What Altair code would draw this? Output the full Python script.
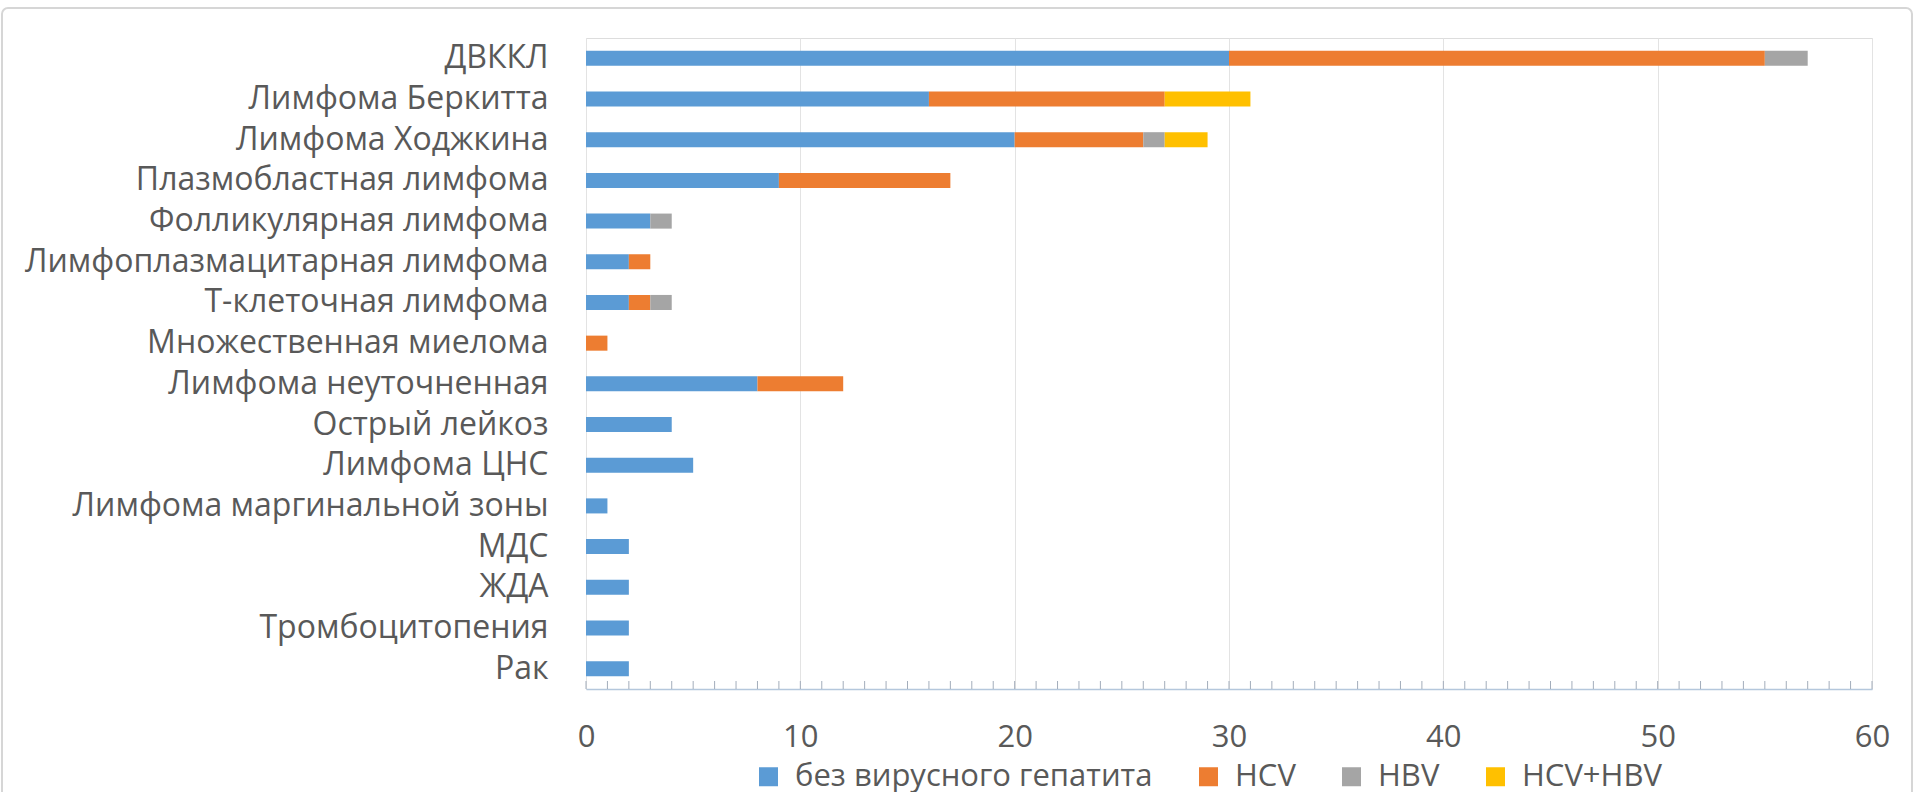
import altair as alt
import pandas as pd

categories = [
    "ДВККЛ", "Лимфома Беркитта", "Лимфома Ходжкина", "Плазмобластная лимфома",
    "Фолликулярная лимфома", "Лимфоплазмацитарная лимфома", "Т-клеточная лимфома",
    "Множественная миелома", "Лимфома неуточненная", "Острый лейкоз", "Лимфома ЦНС",
    "Лимфома маргинальной зоны", "МДС", "ЖДА", "Тромбоцитопения", "Рак",
]
series_names = ["без вирусного гепатита", "HCV", "HBV", "HCV+HBV"]
no_hepatitis = [30, 16, 20, 9, 3, 2, 2, 0, 8, 4, 5, 1, 2, 2, 2, 2]
hcv = [25, 11, 6, 8, 0, 1, 1, 1, 4, 0, 0, 0, 0, 0, 0, 0]
hbv = [2, 0, 1, 0, 1, 0, 1, 0, 0, 0, 0, 0, 0, 0, 0, 0]
hcv_hbv = [0, 4, 2, 0, 0, 0, 0, 0, 0, 0, 0, 0, 0, 0, 0, 0]
colors = ["#5B9BD5", "#ED7D31", "#A5A5A5", "#FFC000"]
x_ticks = [0, 10, 20, 30, 40, 50, 60]
minor_ticks = list(range(0, 61))

rows = []
for si, (name, vals) in enumerate(zip(series_names, [no_hepatitis, hcv, hbv, hcv_hbv])):
    for c, v in zip(categories, vals):
        rows.append({"category": c, "series": name, "value": v, "order": si})
df = pd.DataFrame(rows)
ticks_df = pd.DataFrame({"t": minor_ticks})

W, H = 1286, 651
FONT = "Open Sans"
TXT = "#595959"

x_scale = alt.Scale(domain=[0, 60], nice=False)

bars = alt.Chart(df).mark_bar().encode(
    y=alt.Y("category:N", sort=categories,
            scale=alt.Scale(paddingInner=0.63, paddingOuter=0.315),
            axis=alt.Axis(title=None, ticks=False, domain=False, labelFontSize=32,
                          labelFont=FONT, labelColor=TXT, labelPadding=38, labelLimit=700)),
    x=alt.X("value:Q", stack="zero", scale=x_scale,
            axis=alt.Axis(title=None, values=x_ticks, ticks=False, domain=True,
                          domainColor="#B4C7DC", domainWidth=1.5,
                          grid=True, gridColor="#E3E3E3", gridWidth=1,
                          labelFontSize=31, labelFont=FONT, labelColor=TXT,
                          labelFlush=False, labelPadding=33)),
    color=alt.Color("series:N", sort=series_names,
                    scale=alt.Scale(domain=series_names, range=colors),
                    legend=alt.Legend(title=None, orient="none", direction="horizontal",
                                      legendX=167, legendY=723,
                                      symbolType="square", symbolSize=361,
                                      symbolStrokeWidth=0, symbolOpacity=1,
                                      labelFontSize=31, labelFont=FONT, labelColor=TXT,
                                      labelLimit=600, labelOffset=11,
                                      columnPadding=40, columns=4)),
    order=alt.Order("order:Q"),
)

minor = alt.Chart(ticks_df).mark_rule(color="#A3ADBB", strokeWidth=1).encode(
    x=alt.X("t:Q", scale=x_scale),
    y=alt.value(H - 8),
    y2=alt.value(H),
)

frame = alt.Chart(pd.DataFrame({"a": [0]})).mark_rect(
    fill=None, stroke="#D6D6D6", strokeWidth=2, cornerRadius=6
).encode(
    x=alt.value(-584), x2=alt.value(W + 40),
    y=alt.value(-30), y2=alt.value(H + 200),
)

chart = alt.layer(frame, bars, minor).properties(
    width=W, height=H,
    autosize=alt.AutoSizeParams(type="none"),
    padding={"left": 586, "top": 38, "right": 43, "bottom": 103},
).configure_view(stroke=None).configure(background="white")

chart.save("out.html", embed_options={"renderer": "svg", "actions": False})
